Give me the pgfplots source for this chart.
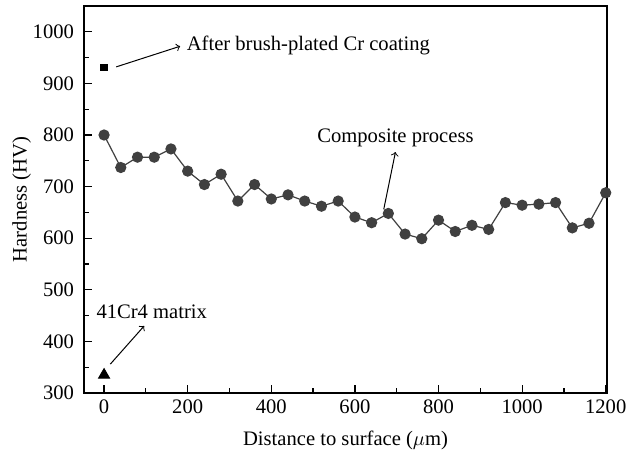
\documentclass[border=0pt]{standalone}
\usepackage{fontspec}
\setmainfont{Liberation Serif}
\usepackage{pgfplots}
\pgfplotsset{compat=1.18}
\definecolor{dg}{HTML}{404040}
\begin{document}
\begin{tikzpicture}
\begin{axis}[
  scale only axis,
  width=261.5pt, height=193.5pt,
  xmin=-48, xmax=1203,
  ymin=300, ymax=1050,
  xtick={0,200,...,1200},
  ytick={300,400,...,1000},
  minor x tick num=1,
  minor y tick num=1,
  tick pos=left,
  tick align=inside,
  major tick length=4pt,
  minor tick length=2.5pt,
  axis line style={line width=0.6pt},
  every tick/.style={line width=0.6pt, black},
  /pgf/number format/assume math mode=true,
  /pgf/number format/1000 sep={},
  ticklabel style={font=\fontsize{10.3}{12}\selectfont},
  yticklabel style={xshift=-1.5pt},
  label style={font=\fontsize{10.3}{12}\selectfont},
  xlabel={Distance to surface ($\mu$m)},
  ylabel={Hardness (HV)},
  xlabel style={at={(axis description cs:0.5,0)}, anchor=center, yshift=-23.5pt},
  ylabel style={at={(axis description cs:-0.1193,0.5)}, anchor=center},
  clip=false,
]
\addplot[color=dg, line width=0.6pt, mark=*, mark size=2.5pt, mark options={fill=dg, draw=dg}]
coordinates {
(0,800) (40,737) (80,757) (120,757) (160,773) (200,730) (240,704) (280,724)
(320,672) (360,704) (400,676) (440,684) (480,672) (520,662) (560,672) (600,641)
(640,630) (680,648) (720,608) (760,599) (800,635) (840,613) (880,625) (920,617)
(960,669) (1000,664) (1040,666) (1080,669) (1120,620) (1160,629) (1200,688)
};
\addplot[only marks, mark=square*, mark size=1.7pt, black] coordinates {(0,931)};
\addplot[only marks, mark=triangle*, mark size=3.2pt, black] coordinates {(0,335)};
\draw[->, line width=0.5pt] (axis cs:29,932) -- (axis cs:182,972);
\node[anchor=west, inner sep=0pt, font=\fontsize{10.3}{12}\selectfont] at (axis cs:197,974) {After brush-plated Cr coating};
\draw[->, line width=0.5pt] (axis cs:15,356) -- (axis cs:96,430);
\node[font=\fontsize{10.3}{12}\selectfont] at (axis cs:114,458) {41Cr4 matrix};
\draw[->, line width=0.5pt] (axis cs:669,656) -- (axis cs:697,767);
\node[font=\fontsize{10.3}{12}\selectfont] at (axis cs:697,794) {Composite process};
\end{axis}
\pgfresetboundingbox
\path[use as bounding box] ([shift={(-42pt,-31pt)}]current axis.south west) rectangle ([shift={(10.5pt,3pt)}]current axis.north east);
\end{tikzpicture}
\end{document}
